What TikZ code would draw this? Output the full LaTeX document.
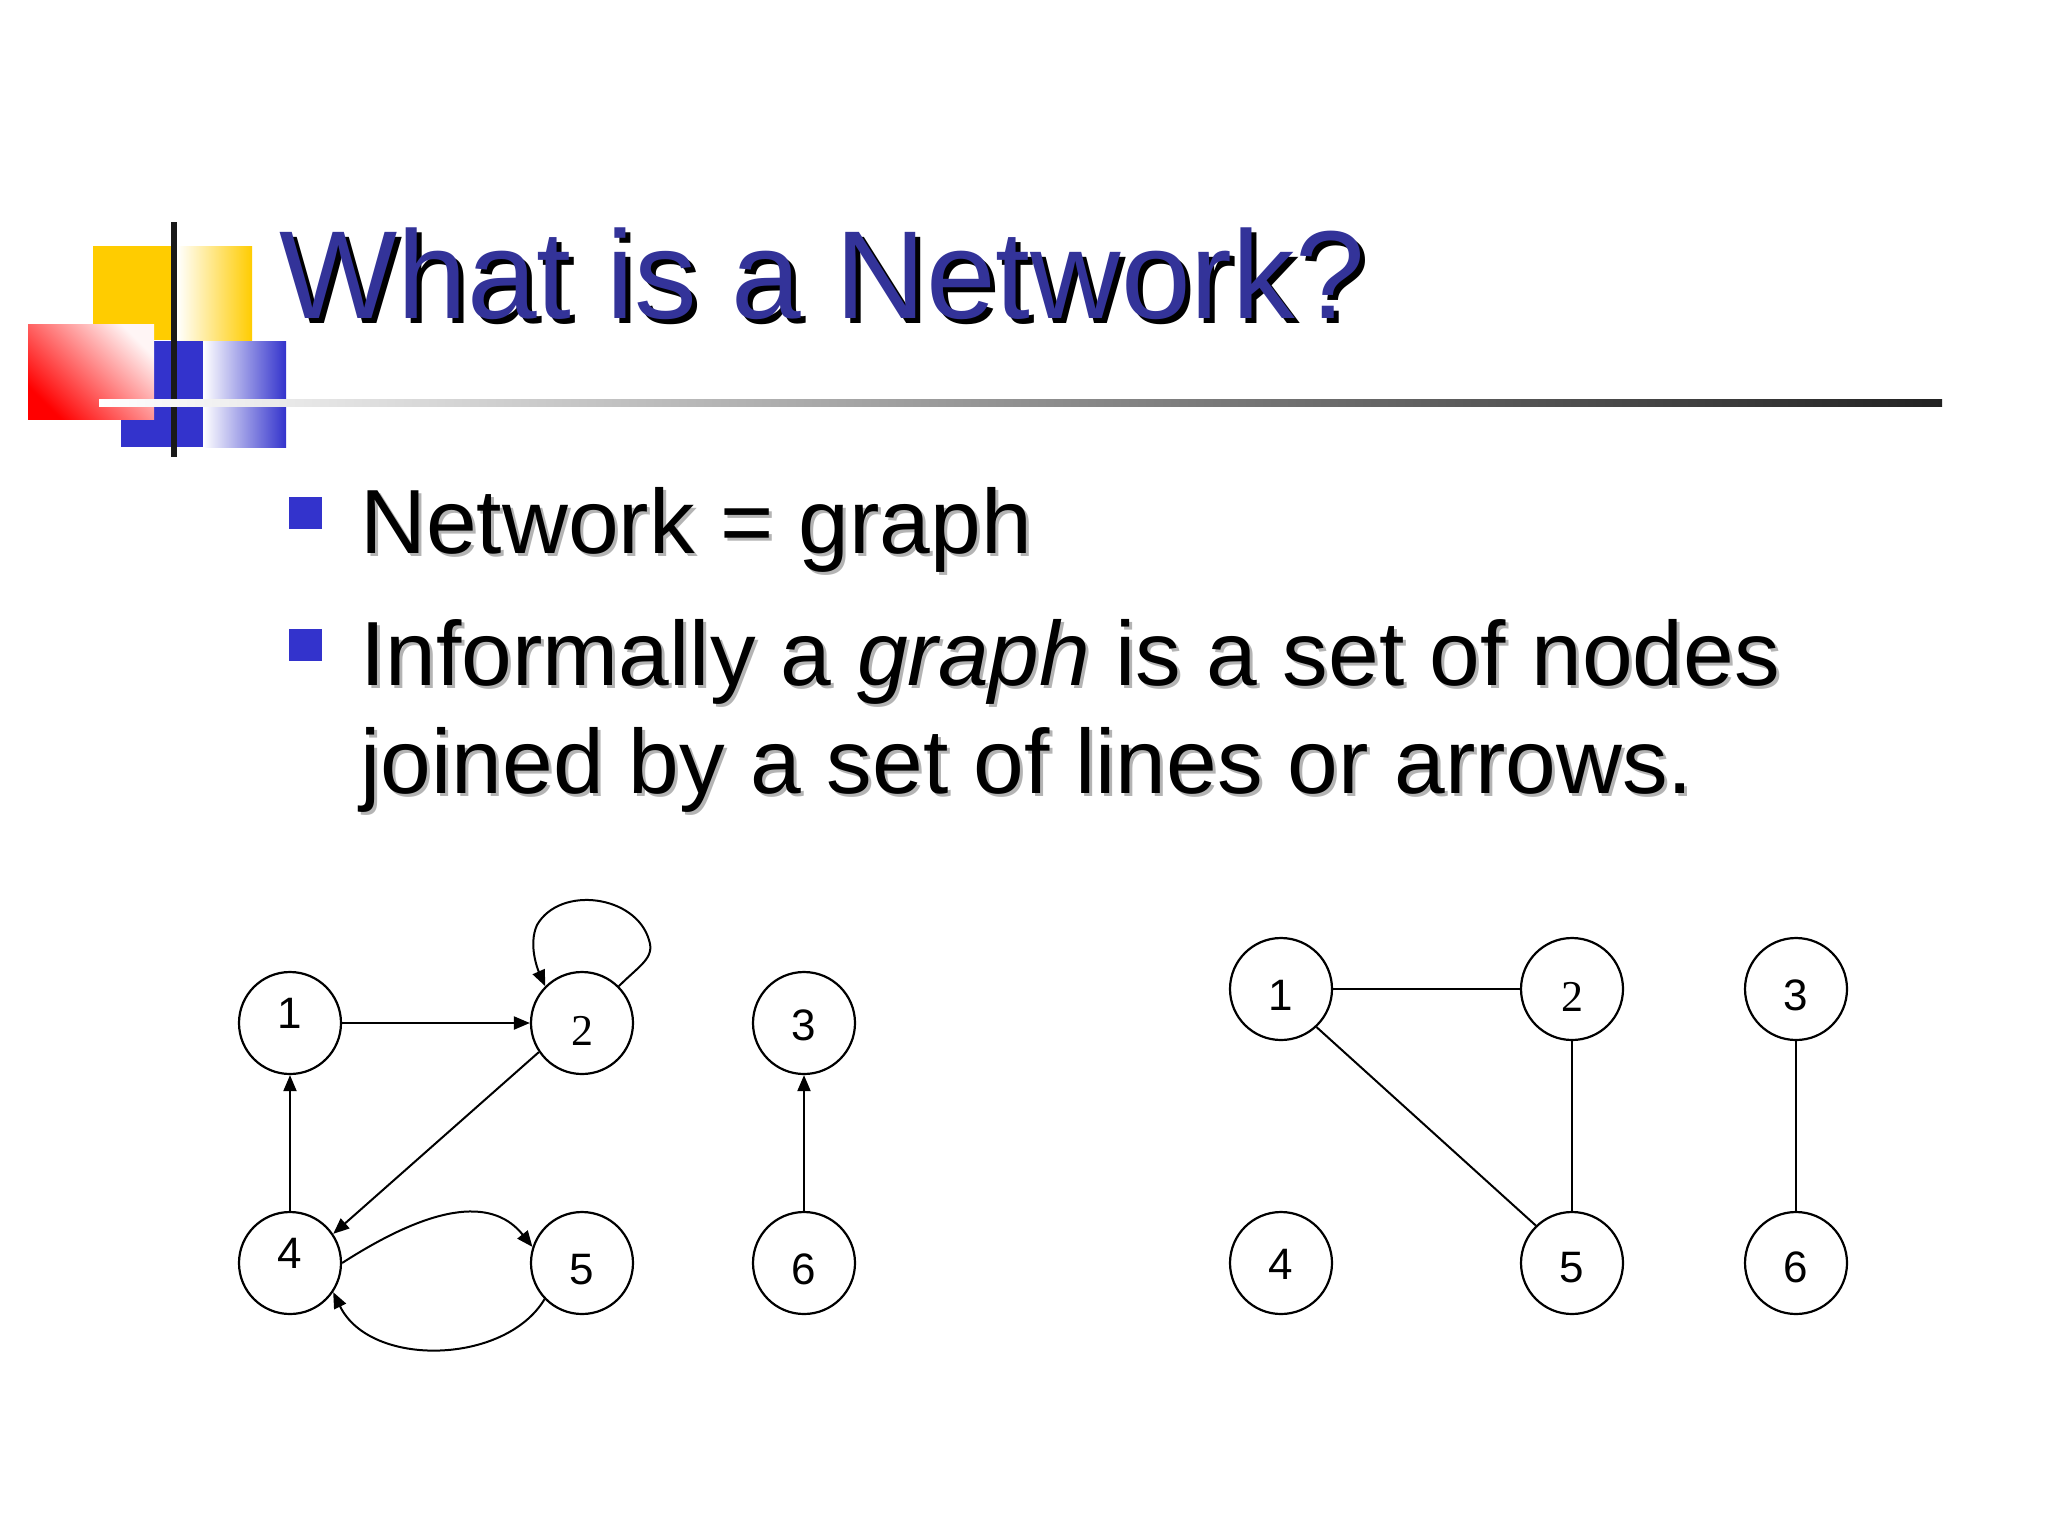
\documentclass[tikz,border=0pt]{standalone}
\usepackage{fontspec}
\setmainfont{Liberation Sans}
\newfontfamily\seriffont{Liberation Serif}
\usetikzlibrary{arrows.meta}
\definecolor{gold}{HTML}{FFCC00}
\definecolor{logoblue}{HTML}{3333CC}
\definecolor{titleblue}{HTML}{333399}
\definecolor{shadowgray}{HTML}{B4B4B4}
\definecolor{rulegray}{HTML}{222222}
\newcommand\lift[2]{\raisebox{#1}[\height][\depth]{#2}}
\begin{document}
\begin{tikzpicture}[x=0.5pt,y=-0.5pt,
  vtx/.style={draw, circle, minimum size=51pt, inner sep=0pt, line width=1.1pt, font=\fontsize{22}{22}\selectfont},
  edge/.style={line width=1pt},
  arc/.style={edge, -{Triangle[length=8pt,width=6.5pt]}},
  titletext/.style={anchor=base west, inner sep=0pt, font=\fontsize{62.6}{70}\selectfont},
  bodytext/.style={anchor=base west, inner sep=0pt, font=\fontsize{45.6}{54}\selectfont},
]
\useasboundingbox (0,0) rectangle (2048,1536);
\fill[white] (0,0) rectangle (2048,1536);

% logo
\fill[gold] (93,246) rectangle (178,340);
\shade[left color=white, right color=gold] (177,246) rectangle (252,340);
\fill[logoblue] (121,341) rectangle (204,447);
\shade[left color=white, right color=logoblue] (203,341) rectangle (286,447);
\shade[bottom color=red, top color=red!4, shading angle=-45] (28,324) rectangle (154,419);
\fill[black!90] (171,222) rectangle (177,457);
\shade[left color=white, right color=rulegray] (99,399) rectangle (1942,406);

% title
\node[titletext, text=black] (titlesh) at (284,323) {What is a Network?};
\node[titletext, text=titleblue] (title) at (279,318) {What is a Network?};

% bullets
\fill[logoblue] (289,497) rectangle (322,529);
\fill[logoblue] (289,629) rectangle (322,661);
\node[bodytext, text=shadowgray] (b1sh) at (363,556) {Network = graph};
\node[bodytext] (b1) at (360,553) {Network = graph};
\node[bodytext, text=shadowgray] (b2sh) at (363,688) {Informally a \textit{graph} is a set of nodes};
\node[bodytext] (b2) at (360,685) {Informally a \textit{graph} is a set of nodes};
\node[bodytext, text=shadowgray] (b3sh) at (363,796) {joined by a set of lines or arrows.};
\node[bodytext] (b3) at (360,793) {joined by a set of lines or arrows.};

% left graph
\node[vtx] (L1) at (290,1023) {\lift{5pt}{1}};
\node[vtx] (L2) at (582,1023) {\lift{-4pt}{\seriffont 2}};
\node[vtx] (L3) at (804,1023) {\lift{-1pt}{3}};
\node[vtx] (L4) at (290,1263) {\lift{5pt}{4}};
\node[vtx] (L5) at (582,1263) {\lift{-3.5pt}{5}};
\node[vtx] (L6) at (804,1263) {\lift{-3pt}{6}};

\draw[arc] (L1) -- (L2);
\draw[arc] (L2.214) -- (L4.34);
\draw[arc] (L4) -- (L1);
\draw[arc] (L6) -- (L3);
\draw[arc] (L4.east) .. controls (440,1200) and (495,1200) .. (L5.162);
\draw[arc] (L5.224) .. controls (505,1365) and (370,1368) .. (L4.326);
\draw[arc] (L2.45) .. controls (640,965) and (655,958) .. (649,940)
  .. controls (636,895) and (560,885) .. (537,925)
  .. controls (528,945) and (538,970) .. (L2.135);

% right graph
\node[vtx] (R1) at (1281,989) {\lift{-3pt}{1}};
\node[vtx] (R2) at (1572,989) {\lift{-4pt}{\seriffont 2}};
\node[vtx] (R3) at (1796,989) {\lift{-3pt}{3}};
\node[vtx] (R4) at (1281,1263) {\lift{-0.5pt}{4}};
\node[vtx] (R5) at (1572,1263) {\lift{-2.5pt}{5}};
\node[vtx] (R6) at (1796,1263) {\lift{-2pt}{6}};

\draw[edge] (R1) -- (R2);
\draw[edge] (R1.313) -- (R5.134);
\draw[edge] (R2) -- (R5);
\draw[edge] (R3) -- (R6);
\end{tikzpicture}
\end{document}
